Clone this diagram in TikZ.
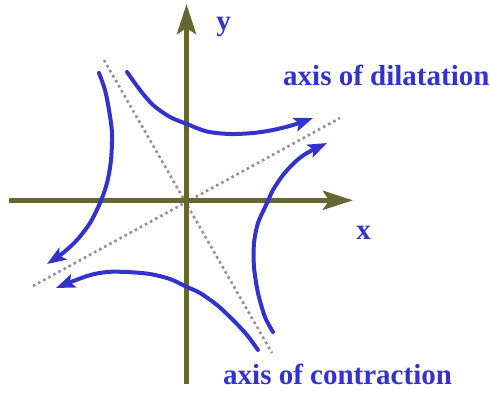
\documentclass[tikz,border=0pt]{standalone}
\usepackage{fontspec}
\setmainfont{Liberation Serif}
\usetikzlibrary{arrows.meta}
\definecolor{axiscol}{RGB}{102,102,51}
\definecolor{flowcol}{RGB}{51,51,204}
\definecolor{guidecol}{RGB}{145,145,145}

\begin{document}
\begin{tikzpicture}[x=1pt,y=-1pt,
    axis/.style={axiscol, line width=5pt, -{Stealth[length=30pt,width=19pt,inset=6pt]}},
    flow/.style={flowcol, line width=4pt, line cap=round, -{Stealth[length=19pt,width=14pt,inset=4pt]}},
    guide/.style={guidecol, line width=2.6pt, dash pattern=on 2.6pt off 3.2pt},
    lab/.style={flowcol, font=\fontsize{29}{31}\selectfont\bfseries, inner sep=0pt}]
    \useasboundingbox (0,0) rectangle (490,392);
    % dotted principal axes
    \draw[guide] (33,286) -- (340,118);
    \draw[guide] (104,60) -- (272,353);
    % coordinate axes
    \draw[axis] (9,200.3) -- (353,200.3);
    \draw[axis] (186.5,384) -- (186.5,4);
    % flow lines
    \draw[flow] plot[smooth] coordinates {(127,72) (140,90) (153,105) (170,117) (187,124) (207,131.5) (230,134) (253,133) (273,130) (293,125) (313,118)};
    \draw[flow] plot[smooth] coordinates {(273,332) (265,317) (258,293) (254,267) (254,243) (258,223) (267,203) (273,190) (283,175) (295,162) (307,153) (327,143)};
    \draw[flow] plot[smooth] coordinates {(99,73) (105,90) (109,110) (112,133) (111,160) (107,183) (100,203) (90,223) (77,240) (63,253) (47,264)};
    \draw[flow] plot[smooth] coordinates {(258,350) (247,335) (233,320) (217,305) (200,293) (187,287) (170,279) (150,274) (127,272) (107,272) (87,276) (56,288)};
    % labels
    \node[lab, anchor=base] (ylab) at (223.5,30) {y};
    \node[lab, anchor=base] (xlab) at (363.5,239) {x};
    \node[lab, anchor=base west] (dil) at (283,85) {axis of dilatation};
    \node[lab, anchor=base west] (con) at (223,384) {axis of contraction};
\end{tikzpicture}
\end{document}
